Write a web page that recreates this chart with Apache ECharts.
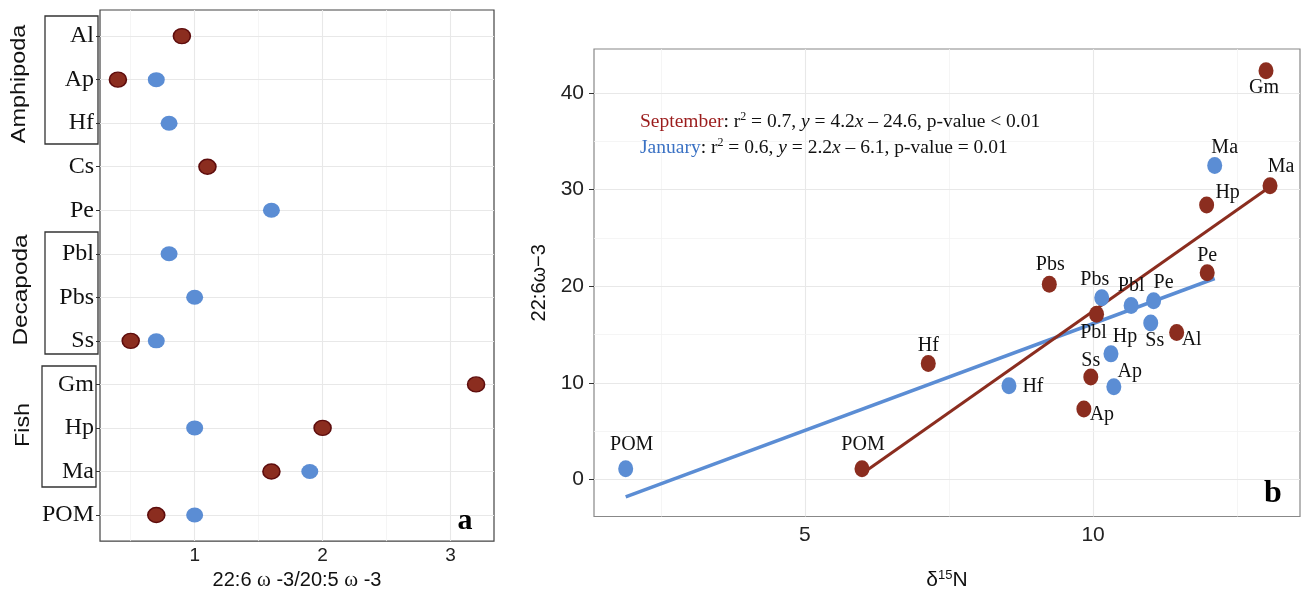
<!DOCTYPE html>
<html><head><meta charset="utf-8">
<script src="https://cdn.jsdelivr.net/npm/echarts@6/dist/echarts.min.js"></script>
<style>html,body{margin:0;padding:0;background:#fff}#c{width:1304px;height:596px}</style>
</head><body><div id="c"></div><script>
// ---- panel a data ----
const categories = ['Al','Ap','Hf','Cs','Pe','Pbl','Pbs','Ss','Gm','Hp','Ma','POM'];
const ratioSeptember = [0.9,0.4,null,1.1,null,null,null,0.5,3.2,2.0,1.6,0.7];
const ratioJanuary   = [null,0.7,0.8,null,1.6,0.8,1.0,0.7,null,1.0,1.9,1.0];
const ratioTicks = [1,2,3];
const ratioGrid = [0.5,1,1.5,2,2.5,3];
const groupNames = ['Amphipoda','Decapoda','Fish'];

// ---- panel b data ----
const sepNames = ['Gm','Ma','Hp','Pe','Pbs','Pbl','Al','Ss','Hf','Ap','POM'];
const sepN15   = [13.0,13.07,11.97,11.98,9.24,10.06,11.45,9.96,7.14,9.84,5.99];
const sepDHA   = [42.3,30.4,28.4,21.4,20.2,17.1,15.2,10.6,12.0,7.3,1.1];
const janNames = ['Ma','Pbs','Pbl','Pe','Ss','Hp','Ap','Hf','POM'];
const janN15   = [12.11,10.15,10.66,11.05,11.0,10.31,10.36,8.54,1.89];
const janDHA   = [32.5,18.8,18.0,18.5,16.2,13.0,9.6,9.7,1.1];
const sepFitN15 = [5.99,13.07];
const sepFitDHA = [0.6,30.3];
const janFitN15 = [1.89,12.11];
const janFitDHA = [-1.8,20.8];
const n15Ticks = [5,10];
const n15Grid = [2.5,5,7.5,10,12.5];
const dhaTicks = [0,10,20,30,40];
const dhaGrid = [0,5,10,15,20,25,30,35,40];

// ---- styling (label offsets, colours) ----
const sepLabelOffset = {Gm:[-2,17],Ma:[11,-19],Hp:[21,-12],Pe:[0,-17],Pbs:[1,-20],Pbl:[-3,18],Al:[15,7],Ss:[0,-16],Hf:[0,-18],Ap:[18,6],POM:[1,-24]};
const janLabelOffset = {Ma:[10,-18],Pbs:[-7,-18],Pbl:[0,-20],Pe:[10,-18],Ss:[4,18],Hp:[14,-17],Ap:[16,-15],Hf:[24,1],POM:[6,-24]};
const RED = '#8b2d1f', RED_EDGE = '#5e0d0d', BLUE = '#5b8dd4';
const ELLIPSE = 'path://M0,50A50,50 0 1,1 100,50A50,50 0 1,1 0,50Z';
const SANS = '"Liberation Sans",Arial,sans-serif';
const SERIF = '"Liberation Serif","Times New Roman",serif';

const chart = echarts.init(document.getElementById('c'), null, {renderer:'canvas'});

function gridLines(xs, ys, minorXs, minorYs){
  const d = [];
  const st = minor => ({type:'solid', color: minor?'#f2f2f2':'#e8e8e8', width: minor?0.8:1.1});
  xs.forEach(v => d.push({xAxis:v, lineStyle:st(minorXs.includes(v))}));
  ys.forEach(v => d.push({yAxis:v, lineStyle:st(minorYs.includes(v))}));
  return d;
}

const idx = categories.map((_,i)=>i);
const leftSep = [], leftJan = [];
categories.forEach((c,i)=>{
  if (ratioSeptember[i] != null) leftSep.push([ratioSeptember[i], i]);
  if (ratioJanuary[i] != null) leftJan.push([ratioJanuary[i], i]);
});

function labelled(names, xs, ys, offs){
  return names.map((n,i)=>({value:[xs[i], ys[i]], name:n,
    label:{show:true, position:'inside', offset:offs[n], formatter:n,
      fontFamily:SERIF, fontSize:20, color:'#111'}}));
}

const option = {
  animation:false,
  backgroundColor:'#fff',
  grid:[
    {left:100, top:10, width:394, height:535, show:true, borderColor:'#444', borderWidth:1.2, backgroundColor:'#fff'},
    {left:594, top:49, width:706, height:468, show:true, borderColor:'#888', borderWidth:1.2, backgroundColor:'#fff'}
  ],
  xAxis:[
    {gridIndex:0, type:'value', min:0.26, max:3.34,
     axisLine:{show:false}, splitLine:{show:false},
     axisTick:{show:true, customValues:ratioTicks, length:4, lineStyle:{color:'#333'}},
     axisLabel:{customValues:ratioTicks, fontFamily:SANS, fontSize:19, color:'#222', margin:5},
     name:'{t|22:6 }{w|ω}{t| -3/20:5 }{w|ω}{t| -3}', nameLocation:'middle', nameGap:28,
     nameTextStyle:{rich:{t:{fontFamily:SANS, fontSize:20, color:'#111'}, w:{fontFamily:SERIF, fontSize:21, color:'#111'}}}},
    {gridIndex:1, type:'value', min:1.34, max:13.59,
     axisLine:{show:false}, splitLine:{show:false},
     axisTick:{show:true, customValues:n15Ticks, length:5, lineStyle:{color:'#333'}},
     axisLabel:{customValues:n15Ticks, fontFamily:SANS, fontSize:21, color:'#222', margin:8},
     name:'{t|δ}{s|15}{t|N}', nameLocation:'middle', nameGap:52,
     nameTextStyle:{rich:{t:{fontFamily:SANS, fontSize:21, color:'#111', lineHeight:24}, s:{fontFamily:SANS, fontSize:13, color:'#111', verticalAlign:'top', lineHeight:24}}}}
  ],
  yAxis:[
    {gridIndex:0, type:'value', inverse:true, min:-0.6, max:11.6,
     axisLine:{show:false}, splitLine:{show:false},
     axisTick:{show:true, customValues:idx, length:4, lineStyle:{color:'#333'}},
     axisLabel:{customValues:idx, formatter:v=>categories[Math.round(v)], fontFamily:SERIF, fontSize:24, color:'#111', margin:6}},
    {gridIndex:1, type:'value', min:-3.83, max:44.55,
     axisLine:{show:false}, splitLine:{show:false},
     axisTick:{show:true, customValues:dhaTicks, length:5, lineStyle:{color:'#333'}},
     axisLabel:{customValues:dhaTicks, fontFamily:SANS, fontSize:21, color:'#222', margin:10},
     name:'22:6ω−3', nameLocation:'middle', nameGap:44, nameRotate:90,
     nameTextStyle:{fontFamily:SANS, fontSize:20, color:'#111'}}
  ],
  series:[
    {type:'scatter', xAxisIndex:0, yAxisIndex:0, data:[], z:0, zlevel:0, silent:true,
     markLine:{silent:true, symbol:['none','none'], label:{show:false}, animation:false,
       data:gridLines(ratioGrid, idx, [0.5,1.5,2.5], [])}},
    {type:'scatter', xAxisIndex:1, yAxisIndex:1, data:[], z:0, zlevel:0, silent:true,
     markLine:{silent:true, symbol:['none','none'], label:{show:false}, animation:false,
       data:gridLines(n15Grid, dhaGrid, [2.5,7.5,12.5], [5,15,25,35])}},
    {name:'January a', type:'scatter', xAxisIndex:0, yAxisIndex:0, data:leftJan, z:4, zlevel:1,
     symbol:ELLIPSE, symbolSize:[17,15], itemStyle:{color:BLUE, opacity:1}},
    {name:'September a', type:'scatter', xAxisIndex:0, yAxisIndex:0, data:leftSep, z:4, zlevel:1,
     symbol:ELLIPSE, symbolSize:[17,15], itemStyle:{color:RED, borderColor:RED_EDGE, borderWidth:1.5, opacity:1}},
    {name:'January fit', type:'line', xAxisIndex:1, yAxisIndex:1, data:janFitN15.map((x,i)=>[x,janFitDHA[i]]), z:2, zlevel:1,
     symbol:'none', lineStyle:{color:BLUE, width:3.5}},
    {name:'September fit', type:'line', xAxisIndex:1, yAxisIndex:1, data:sepFitN15.map((x,i)=>[x,sepFitDHA[i]]), z:3, zlevel:1,
     symbol:'none', lineStyle:{color:RED, width:3}},
    {name:'January b', type:'scatter', xAxisIndex:1, yAxisIndex:1, data:labelled(janNames, janN15, janDHA, janLabelOffset), z:4, zlevel:1,
     symbol:ELLIPSE, symbolSize:[15,17], itemStyle:{color:BLUE, opacity:1}},
    {name:'September b', type:'scatter', xAxisIndex:1, yAxisIndex:1, data:labelled(sepNames, sepN15, sepDHA, sepLabelOffset), z:5, zlevel:1,
     symbol:ELLIPSE, symbolSize:[15,17], itemStyle:{color:RED, opacity:1}}
  ],
  graphic:[
    {type:'rect', shape:{x:45, y:16, width:53, height:128}, style:{fill:'none', stroke:'#333', lineWidth:1.3}},
    {type:'rect', shape:{x:45, y:232, width:53, height:122}, style:{fill:'none', stroke:'#333', lineWidth:1.3}},
    {type:'rect', shape:{x:42, y:366, width:54, height:121}, style:{fill:'none', stroke:'#333', lineWidth:1.3}},
    {type:'text', x:19, y:84, rotation:Math.PI/2, scaleX:1.17, style:{text:groupNames[0], font:'20px "Liberation Sans", Arial, sans-serif', fill:'#111', textAlign:'center', textVerticalAlign:'middle'}},
    {type:'text', x:21, y:290, rotation:Math.PI/2, scaleX:1.22, style:{text:groupNames[1], font:'20px "Liberation Sans", Arial, sans-serif', fill:'#111', textAlign:'center', textVerticalAlign:'middle'}},
    {type:'text', x:23, y:425, rotation:Math.PI/2, scaleX:1.17, style:{text:groupNames[2], font:'20px "Liberation Sans", Arial, sans-serif', fill:'#111', textAlign:'center', textVerticalAlign:'middle'}},
    {type:'text', x:465, y:521, z:10, zlevel:1, style:{text:'a', font:'bold 30px "Liberation Serif", serif', fill:'#000', textAlign:'center', textVerticalAlign:'middle'}},
    {type:'text', x:1273, y:494, z:10, zlevel:1, style:{text:'b', font:'bold 32px "Liberation Serif", serif', fill:'#000', textAlign:'center', textVerticalAlign:'middle'}},
    {type:'text', x:640, y:122, zlevel:1, style:{
      text:'{sep|September}{t|: r}{sup|2}{t| = 0.7, }{i|y}{t| = 4.2}{i|x}{t| – 24.6, p-value < 0.01}',
      textAlign:'left', textVerticalAlign:'middle',
      rich:{sep:{fontFamily:SERIF, fontSize:19.5, fill:'#9b1c1c', lineHeight:22},
            t:{fontFamily:SERIF, fontSize:19.5, fill:'#111', lineHeight:22},
            i:{fontFamily:SERIF, fontSize:19.5, fontStyle:'italic', fill:'#111', lineHeight:22},
            sup:{fontFamily:SERIF, fontSize:12, fill:'#111', verticalAlign:'top', lineHeight:22}}}},
    {type:'text', x:640, y:148, zlevel:1, style:{
      text:'{jan|January}{t|: r}{sup|2}{t| = 0.6, }{i|y}{t| = 2.2}{i|x}{t| – 6.1, p-value = 0.01}',
      textAlign:'left', textVerticalAlign:'middle',
      rich:{jan:{fontFamily:SERIF, fontSize:19.5, fill:'#3b72c4', lineHeight:22},
            t:{fontFamily:SERIF, fontSize:19.5, fill:'#111', lineHeight:22},
            i:{fontFamily:SERIF, fontSize:19.5, fontStyle:'italic', fill:'#111', lineHeight:22},
            sup:{fontFamily:SERIF, fontSize:12, fill:'#111', verticalAlign:'top', lineHeight:22}}}}
  ]
};
chart.setOption(option);
</script></body></html>
